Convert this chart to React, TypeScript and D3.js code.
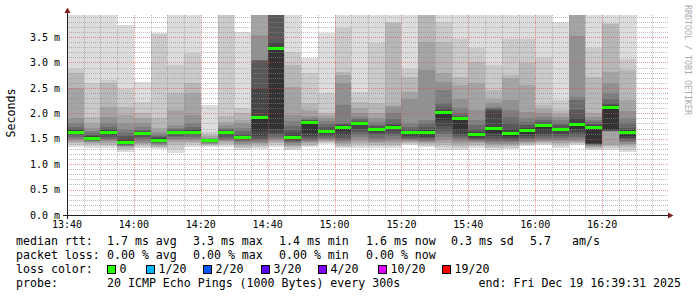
import React from "react";
import * as d3 from "d3";

// ---- data ----
const barStarts = [
  "13:40","13:45","13:50","13:55","14:00","14:05","14:10","14:15","14:20","14:25",
  "14:30","14:35","14:40","14:45","14:50","14:55","15:00","15:05","15:10","15:15",
  "15:20","15:25","15:30","15:35","15:40","15:45","15:50","15:55","16:00","16:05",
  "16:10","16:15","16:20","16:25",
];

// 20 sorted pings (ms) per 5-minute step
const pings: number[][] = [
  [1.34,1.38,1.41,1.44,1.47,1.50,1.54,1.57,1.60,1.61,1.64,1.68,1.70,1.74,1.80,1.90,2.49,2.79,2.88,4.50],
  [1.32,1.36,1.39,1.41,1.43,1.45,1.46,1.47,1.48,1.50,1.51,1.55,1.58,1.62,1.66,1.72,1.81,1.93,2.59,4.50],
  [1.31,1.35,1.38,1.42,1.45,1.47,1.50,1.53,1.58,1.62,1.64,1.67,1.70,1.74,1.80,1.93,2.13,2.59,2.65,4.50],
  [1.24,1.27,1.30,1.33,1.35,1.36,1.37,1.38,1.40,1.42,1.44,1.50,1.55,1.62,1.70,1.81,1.97,2.12,2.47,3.74],
  [1.31,1.34,1.37,1.40,1.42,1.45,1.49,1.53,1.57,1.60,1.61,1.63,1.65,1.68,1.73,1.80,1.90,2.00,2.23,2.62],
  [1.30,1.32,1.34,1.36,1.38,1.40,1.42,1.44,1.45,1.47,1.48,1.51,1.53,1.56,1.60,1.64,1.72,1.90,3.55,3.58],
  [1.22,1.30,1.38,1.44,1.47,1.50,1.53,1.56,1.59,1.62,1.63,1.66,1.67,1.69,1.72,1.77,2.06,2.39,2.95,4.50],
  [1.34,1.38,1.41,1.44,1.47,1.50,1.53,1.57,1.60,1.62,1.64,1.67,1.70,1.73,1.80,1.97,2.39,2.59,3.18,4.50],
  [1.33,1.35,1.37,1.39,1.40,1.42,1.43,1.44,1.45,1.46,1.47,1.48,1.48,1.49,1.50,1.52,1.55,1.58,1.64,2.16],
  [1.34,1.37,1.40,1.43,1.45,1.47,1.50,1.54,1.58,1.61,1.63,1.65,1.67,1.69,1.72,1.76,1.82,1.95,4.40,4.50],
  [1.28,1.31,1.34,1.37,1.40,1.43,1.45,1.47,1.49,1.51,1.53,1.56,1.60,1.66,1.72,1.80,1.87,2.00,2.10,3.60],
  [1.30,1.33,1.36,1.39,1.42,1.44,1.47,1.50,1.55,1.65,1.93,2.50,3.03,3.04,3.05,3.54,4.30,4.40,4.50,4.60],
  [1.33,1.37,1.41,1.44,1.47,1.50,1.53,1.57,1.62,1.70,3.28,3.41,4.00,4.10,4.20,4.30,4.40,4.45,4.50,4.60],
  [1.28,1.30,1.33,1.36,1.38,1.41,1.43,1.45,1.47,1.50,1.54,1.62,1.68,1.75,1.85,1.97,2.52,2.95,3.21,4.50],
  [1.33,1.36,1.38,1.41,1.43,1.45,1.48,1.52,1.56,1.62,1.83,1.85,1.86,1.87,1.90,1.95,2.06,2.20,2.80,3.08],
  [1.40,1.42,1.44,1.46,1.48,1.50,1.52,1.55,1.58,1.62,1.66,1.70,1.74,1.79,1.84,1.90,1.96,2.00,2.40,3.57],
  [1.31,1.33,1.36,1.39,1.42,1.45,1.48,1.52,1.58,1.65,1.74,1.76,1.78,1.80,2.16,2.59,2.75,2.82,3.67,4.50],
  [1.32,1.36,1.40,1.44,1.48,1.53,1.58,1.64,1.70,1.76,1.80,1.82,1.85,1.88,1.93,2.00,2.10,2.23,2.42,4.50],
  [1.31,1.35,1.38,1.41,1.44,1.48,1.52,1.57,1.62,1.66,1.70,1.72,1.75,1.77,1.82,1.90,2.00,2.20,3.38,4.50],
  [1.32,1.35,1.38,1.42,1.46,1.50,1.55,1.60,1.66,1.70,1.74,1.77,1.80,1.88,2.00,2.12,2.16,3.78,3.80,4.50],
  [1.37,1.39,1.41,1.43,1.45,1.47,1.49,1.52,1.55,1.58,1.63,1.66,1.70,1.74,1.80,2.29,2.42,2.72,2.88,4.50],
  [1.33,1.36,1.39,1.41,1.44,1.46,1.48,1.51,1.54,1.58,1.64,1.68,1.73,1.80,1.87,2.85,3.41,4.40,4.50,4.60],
  [1.28,1.33,1.38,1.42,1.47,1.53,1.60,1.66,1.75,1.87,2.03,2.07,2.12,2.20,2.46,2.62,2.79,3.41,3.80,4.50],
  [1.28,1.32,1.36,1.40,1.44,1.47,1.51,1.55,1.60,1.67,1.90,1.92,1.95,2.00,2.10,2.29,2.55,2.72,3.47,4.50],
  [1.32,1.35,1.38,1.41,1.43,1.45,1.47,1.49,1.52,1.55,1.59,1.64,1.70,1.76,1.87,2.06,2.59,3.01,3.28,4.50],
  [1.28,1.31,1.34,1.37,1.40,1.43,1.46,1.50,1.55,1.62,1.72,2.05,2.08,2.10,2.12,2.20,2.29,2.46,2.95,4.50],
  [1.29,1.32,1.35,1.38,1.40,1.43,1.45,1.48,1.51,1.55,1.61,1.70,1.80,1.92,2.06,2.26,2.70,2.75,3.47,4.50],
  [1.36,1.38,1.40,1.42,1.44,1.46,1.49,1.52,1.55,1.60,1.67,1.71,1.76,1.82,1.90,2.03,2.56,2.98,3.47,4.50],
  [1.37,1.40,1.42,1.44,1.46,1.48,1.51,1.55,1.60,1.68,1.76,1.79,1.82,1.86,1.92,2.00,2.08,2.16,3.11,4.50],
  [1.31,1.35,1.39,1.42,1.45,1.48,1.51,1.55,1.60,1.65,1.69,1.72,1.76,1.80,1.86,1.92,1.98,2.06,2.26,3.80],
  [1.37,1.40,1.42,1.44,1.46,1.49,1.53,1.58,1.64,1.70,1.78,1.90,2.06,2.26,2.33,3.51,4.30,4.40,4.50,4.60],
  [1.28,1.30,1.32,1.34,1.36,1.37,1.38,1.39,1.40,1.42,1.74,1.76,1.79,1.82,1.86,1.92,2.00,2.72,3.28,4.50],
  [1.28,1.32,1.35,1.38,1.64,1.65,1.655,1.66,1.665,1.67,2.13,2.16,2.20,2.28,2.39,2.59,2.82,3.75,3.77,4.50],
  [1.24,1.28,1.33,1.37,1.40,1.43,1.46,1.49,1.52,1.56,1.63,1.67,1.72,1.80,1.90,2.05,2.26,2.85,3.06,4.50],
];

const medians = [
  1.64,1.51,1.64,1.44,1.61,1.48,1.63,1.64,1.47,1.63,
  1.53,1.93,3.28,1.54,1.83,1.66,1.74,1.80,1.70,1.74,
  1.63,1.64,2.03,1.90,1.59,1.72,1.61,1.67,1.76,1.69,
  1.78,1.74,2.13,1.63,
];

const yTickValues = [0, 0.5, 1.0, 1.5, 2.0, 2.5, 3.0, 3.5];
const yTickLabels = ["0.0 m", "0.5 m", "1.0 m", "1.5 m", "2.0 m", "2.5 m", "3.0 m", "3.5 m"];
const xTickLabels = ["13:40", "14:00", "14:20", "14:40", "15:00", "15:20", "15:40", "16:00", "16:20"];
const lossLabels = ["0", "1/20", "2/20", "3/20", "4/20", "10/20", "19/20"];
const lossColors = ["#26ff00", "#00b8ff", "#0059ff", "#5e00ff", "#7e00ff", "#dd00ff", "#ff0000"];
const legendBoxX = [107, 146, 203, 261, 318, 378, 442];
const rttLine = ["median rtt:", "1.7 ms avg", "3.3 ms max", "1.4 ms min", "1.6 ms now", "0.3 ms sd", "5.7", "am/s"];
const rttX = [16, 107, 193, 279, 366, 451, 530, 572];
const lossLine = ["packet loss:", "0.00 % avg", "0.00 % max", "0.00 % min", "0.00 % now"];
const lossX = [16, 107, 193, 279, 366];
const colorTitle = "loss color:";
const probeLine = ["probe:", "20 ICMP Echo Pings (1000 Bytes) every 300s"];
const probeX = [16, 107];
const endLabel = "end: Fri Dec 19 16:39:31 2025";

const MONO = "'DejaVu Sans Mono', 'Liberation Mono', monospace";

export default function App() {
  const parse = d3.timeParse("%H:%M");
  const t0 = parse("13:40") as Date;
  const t1 = parse("16:40") as Date;
  const x = d3.scaleTime().domain([t0, t1]).range([67, 669]);
  const y = d3.scaleLinear().domain([0, 3.5]).range([215, 37]);
  const plotTop = 15;
  const topVal = y.invert(plotTop);
  const clampY = (v: number) => Math.round(y(Math.min(v, topVal)));

  const smokeColor = (i: number) => {
    const c = Math.floor((190 / 10) * (10 - i)) + 50;
    return d3.rgb(c, c, c).formatHex();
  };

  const bars = barStarts.map((s, b) => {
    const ts = parse(s) as Date;
    const te = d3.timeMinute.offset(ts, 5);
    const x0 = Math.round(x(ts));
    const x1 = Math.round(x(te));
    const p = pings[b];
    const rects = [];
    for (let i = 1; i <= 10; i++) {
      const lo = p[i - 1];
      const hi = p[20 - i];
      const yHi = clampY(hi);
      const yLo = clampY(lo);
      rects.push(
        <rect key={i} x={x0} y={yHi} width={x1 - x0} height={Math.max(0, yLo - yHi)} fill={smokeColor(i)} />
      );
    }
    return { x0, x1, rects, med: medians[b] };
  });

  // grid
  const minorH = d3.range(1, 40).filter((k) => k % 5 !== 0).map((k) => k / 10);
  const majorH = yTickValues.filter((v) => v > 0);
  const vTimes = d3.timeMinute.every(5)!.range(d3.timeMinute.offset(t0, 5), t1);
  const majorV = vTimes.filter((t) => t.getMinutes() % 20 === 0);
  const minorV = vTimes.filter((t) => t.getMinutes() % 20 !== 0);
  const xl = 67, xr = 669;
  const hy = (v: number) => Math.round(y(v)) + 0.5;
  const vx = (t: Date) => Math.round(x(t)) + 0.5;

  const legendBase = 244.5;
  const lineH = 14;

  return (
    <svg width={697} height={297} style={{ position: "absolute", left: 0, top: 0 }} xmlns="http://www.w3.org/2000/svg">
      <rect x={0} y={0} width={697} height={297} fill="#ffffff" />
      <g shapeRendering="crispEdges">
        {bars.map((b, i) => (
          <g key={i}>{b.rects}</g>
        ))}
      </g>
      <g shapeRendering="crispEdges" strokeDasharray="1,1" strokeWidth={1} fill="none">
        {minorH.map((v) => (
          <line key={"mh" + v} x1={xl} x2={xr} y1={hy(v)} y2={hy(v)} stroke="rgba(143,143,143,0.6)" />
        ))}
        {minorV.map((t) => (
          <line key={"mv" + t.getTime()} x1={vx(t)} x2={vx(t)} y1={plotTop} y2={215} stroke="rgba(143,143,143,0.6)" />
        ))}
        {majorH.map((v) => (
          <line key={"Mh" + v} x1={xl} x2={xr} y1={hy(v)} y2={hy(v)} stroke="rgba(222,79,79,0.6)" />
        ))}
        {majorV.map((t) => (
          <line key={"Mv" + t.getTime()} x1={vx(t)} x2={vx(t)} y1={plotTop} y2={215} stroke="rgba(222,79,79,0.6)" />
        ))}
      </g>
      <g shapeRendering="crispEdges">
        {bars.map((b, i) => (
          <rect key={"m" + i} x={b.x0} y={Math.round(y(b.med)) - 1} width={b.x1 - b.x0} height={3} fill={lossColors[0]} />
        ))}
      </g>
      {/* axes */}
      <g shapeRendering="crispEdges">
        <line x1={63} x2={670} y1={215.5} y2={215.5} stroke="#1f1f1f" />
        <line x1={67.5} x2={67.5} y1={219} y2={12} stroke="#1f1f1f" />
      </g>
      <path d="M668,212.5 L673.5,215.5 L668,218.5 Z" fill="#801e1e" />
      <path d="M64.5,13 L67.5,7.5 L70.5,13 Z" fill="#801e1e" />
      {/* axis labels */}
      <g fontFamily={MONO} fontSize={10} fill="#000">
        {yTickValues.map((v, i) => (
          <text key={v} x={60} y={y(v) + 3.7} textAnchor="end">{yTickLabels[i]}</text>
        ))}
        {xTickLabels.map((s) => (
          <text key={s} x={x(parse(s) as Date)} y={228} textAnchor="middle">{s}</text>
        ))}
      </g>
      <text transform="translate(14.5,113) rotate(-90)" textAnchor="middle" fontFamily={MONO} fontSize={11.6} fill="#000">Seconds</text>
      <text transform="translate(685,5) rotate(90)" fontFamily={MONO} fontSize={8.3} fill="#aaaaaa">RRDTOOL / TOBI OETIKER</text>
      {/* legend */}
      <g fontFamily={MONO} fontSize={11.6} fill="#000">
        {rttLine.map((s, i) => (
          <text key={"r" + i} x={rttX[i]} y={legendBase}>{s}</text>
        ))}
        {lossLine.map((s, i) => (
          <text key={"l" + i} x={lossX[i]} y={legendBase + lineH}>{s}</text>
        ))}
        <text x={16} y={legendBase + 2 * lineH}>{colorTitle}</text>
        {probeLine.map((s, i) => (
          <text key={"p" + i} x={probeX[i]} y={legendBase + 3 * lineH}>{s}</text>
        ))}
        <text x={681} y={legendBase + 3 * lineH} textAnchor="end">{endLabel}</text>
        {lossLabels.map((s, i) => (
          <g key={s}>
            <rect x={legendBoxX[i] + 0.5} y={265.5} width={8} height={8} fill={lossColors[i]} stroke="#000" strokeWidth={1} shapeRendering="crispEdges" />
            <text x={legendBoxX[i] + 12.5} y={legendBase + 2 * lineH}>{s}</text>
          </g>
        ))}
      </g>
    </svg>
  );
}
